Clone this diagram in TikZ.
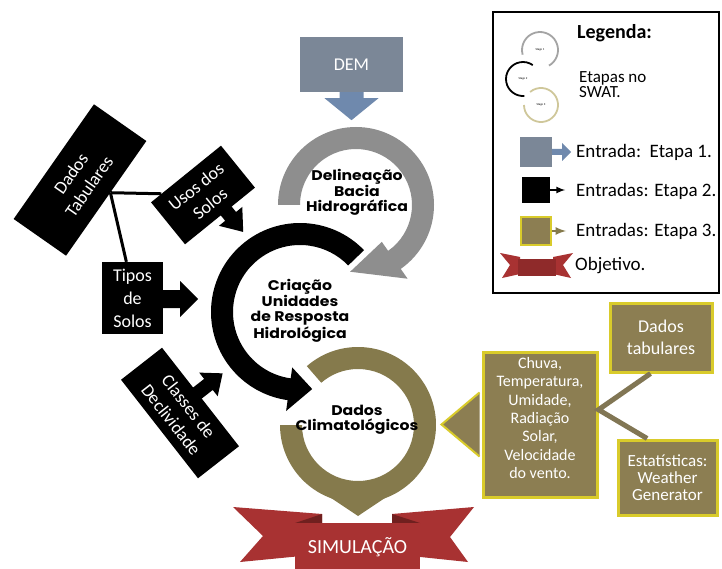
\documentclass[tikz,border=0pt]{standalone}
\usepackage{fontspec}
\setmainfont{Carlito}
\newfontfamily\ringfont{Poppins}[FakeStretch=1.12]
\usetikzlibrary{calc}
\definecolor{demgray}{HTML}{7B8797}
\definecolor{demarrow}{HTML}{6F89AD}
\definecolor{ringgray}{HTML}{8E8E8E}
\definecolor{oliveR}{HTML}{857A4C}
\definecolor{olivebox}{HTML}{8C7E52}
\definecolor{oliveline}{HTML}{817654}
\definecolor{yelb}{HTML}{D9CB2B}
\definecolor{ribred}{HTML}{A83232}
\definecolor{ribdark}{HTML}{70201F}
\definecolor{khaki}{HTML}{CFC79A}
\begin{document}
\begin{tikzpicture}[x=1pt,y=-1pt,
  wtxt/.style={text=white, align=center, inner sep=0pt, font=\fontsize{18}{22}\selectfont},
  blackbox/.style={wtxt, fill=black},
  olbox/.style={wtxt, fill=olivebox, draw=yelb, line width=3pt},
  ringlbl/.style={align=center, inner sep=0pt, font=\ringfont\bfseries\fontsize{14}{15}\selectfont},
  legtxt/.style={anchor=west, inner sep=0pt, align=left, font=\fontsize{19}{15}\selectfont},
  tiny/.style={inner sep=0pt, font=\fontsize{3}{3}\selectfont}]
\useasboundingbox (0,0) rectangle (722,569);
\fill[white] (0,0) rectangle (722,569);

% ---------- rings ----------
\coordinate (G) at (356,205);
\coordinate (B) at (300,312);
\coordinate (O) at (358,425);

% olive ring
\fill[oliveR] ($(O)+(-131:78)$) arc[start angle=-131,end angle=180,radius=78]
  -- ($(O)+(180:56)$) arc[start angle=180,end angle=-131,radius=56] -- cycle;
\fill[oliveR] ($(O)+(62:76)$) -- (358,516) -- ($(O)+(118:76)$) -- cycle;

% black ring
\fill[black] ($(B)+(-44:89)$) arc[start angle=-44,end angle=-262,radius=89]
  -- ($(B)+(-262:100)$) -- ($(B)+(-279:78)$) -- ($(B)+(-262:56)$)
  -- ($(B)+(-262:67)$) arc[start angle=-262,end angle=-44,radius=67] -- cycle;

% gray ring
\fill[ringgray] ($(G)+(-180:78)$) arc[start angle=-180,end angle=55,radius=78]
  -- ($(G)+(55:90)$) -- ($(G)+(95:67)$) -- ($(G)+(55:45)$)
  -- ($(G)+(55:56)$) arc[start angle=55,end angle=-180,radius=56] -- cycle;

\node[ringlbl] (delin) at (357,192) {Delineação\\Bacia\\Hidrográfica};
\node[ringlbl] (criacao) at (300,311) {Criação\\Unidades\\de Resposta\\Hidrológica};
\node[ringlbl] (clima) at (357,420) {Dados\\Climatológicos};

% ---------- DEM ----------
\node[wtxt, fill=demgray, minimum width=103pt, minimum height=55pt] (dem) at (351.5,64.5) {DEM};
\fill[demarrow] ($(dem.south)+(-12,0)$) -- ++(0,6) -- ++(-15,0) -- ($(dem.south)+(0,28)$)
  -- ($(dem.south)+(27,6)$) -- ++(-15,0) -- ($(dem.south)+(12,0)$) -- cycle;

% ---------- left black inputs ----------
\node[blackbox, minimum width=140pt, minimum height=64pt, rotate=55] (tab) at (80,180) {Dados\\Tabulares};
\node[blackbox, minimum width=90pt, minimum height=54pt, rotate=39] (usos) at (203,195) {Usos dos\\Solos};
\node[blackbox, minimum width=61pt, minimum height=72pt, font=\fontsize{18}{23}\selectfont] (tipos) at (132.5,298) {Tipos\\de\\Solos};
\node[blackbox, minimum width=125pt, minimum height=52pt, rotate=-52] (cls) at (180,413) {Classes de\\Declividade};

\coordinate (junc) at ($(tab.south)!0.1!(tab.south east)$);
\draw[line width=3pt] (junc) -- ($(usos.north west)!0.15!(usos.north east)$);
\draw[line width=3pt] (junc) -- ($(tipos.north west)!0.4!(tipos.north east)$);

\begin{scope}[shift={(usos.center)}, rotate=39]
  \fill[black] (1,26) -- (1,34) -- (-7,34) -- (8,54) -- (23,34) -- (15,34) -- (15,26) -- cycle;
\end{scope}
\begin{scope}[shift={(cls.center)}, rotate=-52]
  \fill[black] (-12,-25) -- (-12,-40) -- (-20,-40) -- (-5,-58) -- (10,-40) -- (2,-40) -- (2,-25) -- cycle;
\end{scope}
\fill[black] ($(tipos.east)+(-1,-8)$) -- ++(18,0) -- ++(0,-9) -- ($(tipos.east)+(35,1)$)
  -- ($(tipos.east)+(17,19)$) -- ++(0,-9) -- ($(tipos.east)+(-1,10)$) -- cycle;

% ---------- right olive inputs ----------
\node[olbox, minimum width=114pt, minimum height=145pt] (chuva) at (540,424.5) {};
\node[wtxt, font=\fontsize{16}{18.3}\selectfont] (chuvatxt) at (540,418)
  {Chuva,\\Temperatura,\\Umidade,\\Radiação\\Solar,\\Velocidade\\do vento.};
\fill[olivebox, draw=yelb, line width=2pt] ($(chuva.west)+(-2,-32)$) -- ($(chuva.west)+(-40,0)$) -- ($(chuva.west)+(-2,32)$);
\node[olbox, minimum width=102pt, minimum height=69pt] (dtab) at (661,337.5) {Dados\\tabulares};
\node[olbox, minimum width=99pt, minimum height=75pt, font=\fontsize{17}{17}\selectfont] (est) at (667.5,477.5) {Estatísticas:\\Weather\\Generator};
\coordinate (cj) at ($(chuva.north east)!0.4!(chuva.south east)$);
\draw[oliveline, line width=5pt] ($(dtab.south west)!0.4!(dtab.south east)$) -- (cj)
  -- ($(est.north west)!0.3!(est.north east)$);

% ---------- ribbon ----------
\fill[ribred] (233,507) -- (322,514) -- (322,554) -- (240,562) -- (263,536) -- cycle;
\fill[ribred] (474,507) -- (392,514) -- (392,554) -- (468,562) -- (450,537) -- cycle;
\fill[ribdark] (295,523) -- (322,514) -- (322,523) -- cycle;
\fill[ribdark] (420,523) -- (392,514) -- (392,523) -- cycle;
\node[wtxt, fill=ribred, minimum width=125pt, minimum height=48pt, font=\fontsize{20}{22}\selectfont] (sim) at (357.5,547) {SIMULAÇÃO};

% ---------- legend ----------
\node[draw, line width=2pt, minimum width=226pt, minimum height=281pt, inner sep=0pt] (leg) at (606,152.5) {};
\node[legtxt, font=\bfseries\fontsize{20}{22}\selectfont] (legt) at (577,33) {Legenda:};
\coordinate (L1) at (540,50);
\coordinate (L2) at (523,79);
\coordinate (L3) at (541,105);
\draw[khaki, line width=1.8pt] ($(L3)+(-130:17)$) arc[start angle=-130,end angle=180,radius=17];
\draw[black, line width=1.8pt] ($(L2)+(-55:17)$) arc[start angle=-55,end angle=-275,radius=17];
\draw[ringgray!80, line width=1.8pt] ($(L1)+(165:18)$) arc[start angle=165,end angle=420,radius=18];
\node[tiny] (l1t) at (L1) {Stage 1};
\node[tiny] (l2t) at (L2) {Stage 2};
\node[tiny] (l3t) at (L3) {Stage 3};
\node[legtxt, font=\fontsize{17}{15}\selectfont] (etap) at (579,85) {Etapas no\\SWAT.};

\node[fill=demgray, minimum width=32pt, minimum height=30pt, inner sep=0pt] (lg1) at (536,152) {};
\fill[demarrow] ($(lg1.east)+(0,-3)$) -- ++(10,0) -- ++(0,-6) -- ($(lg1.east)+(19,0)$) -- ($(lg1.east)+(10,9)$) -- ++(0,-6) -- ($(lg1.east)+(0,3)$) -- cycle;
\node[legtxt] (e1) at (576,152) {Entrada:\ \ Etapa 1.};

\node[fill=black, minimum width=28pt, minimum height=26pt, inner sep=0pt] (lg2) at (536,190) {};
\draw[black, line width=2pt, -latex] (lg2.east) -- ++(15,0);
\node[legtxt] (e2) at (576,191) {Entradas: Etapa 2.};

\node[fill=olivebox, draw=yelb, line width=2pt, minimum width=30pt, minimum height=27pt, inner sep=0pt] (lg3) at (536,231) {};
\draw[oliveR, line width=2.5pt, -latex] (lg3.east) -- ++(14,0);
\node[legtxt] (e3) at (576,231) {Entradas: Etapa 3.};

\fill[ribred] (500,253) -- (520,257) -- (520,274) -- (502,278) -- (510,265) -- cycle;
\fill[ribred] (573,253) -- (553,257) -- (553,274) -- (571,278) -- (563,265) -- cycle;
\node[fill=ribred!85!black, minimum width=38pt, minimum height=17pt, inner sep=0pt] (lgr) at (536.5,267) {};
\node[legtxt] (obj) at (575,266) {Objetivo.};
\end{tikzpicture}
\end{document}
